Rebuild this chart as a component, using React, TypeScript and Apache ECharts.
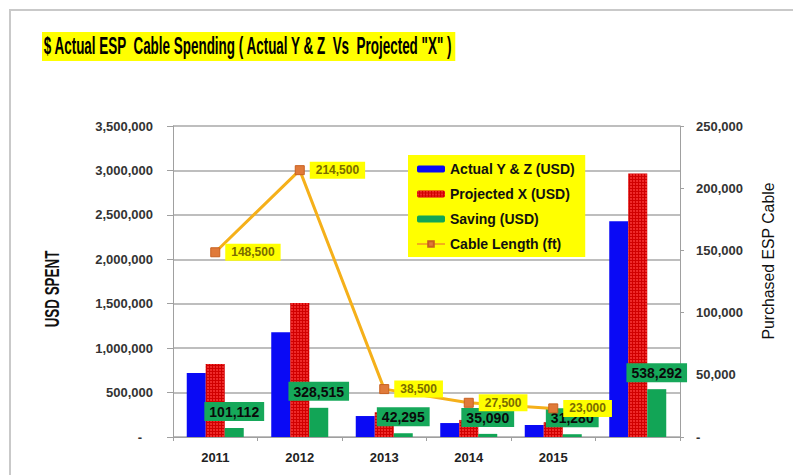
import React, { useEffect, useRef } from 'react';
import * as echarts from 'echarts';

const categories = ['2011', '2012', '2013', '2014', '2015', ''];
const actualYZ = [720000, 1180000, 236000, 157000, 135000, 2428000];
const projectedX = [821112, 1508515, 278295, 192090, 166280, 2966292];
const saving = [101112, 328515, 42295, 35090, 31280, 538292];
const cableLength = [148500, 214500, 38500, 27500, 23000];

const titleText = '$ Actual ESP  Cable Spending ( Actual Y & Z  Vs  Projected "X" )';
const leftAxisName = 'USD SPENT';
const rightAxisName = 'Purchased ESP Cable';
const seriesNames = ['Actual Y & Z (USD)', 'Projected X (USD)', 'Saving (USD)', 'Cable Length (ft)'];

const FONT = "'Liberation Sans', Arial, sans-serif";

const fmt = (v: number) => (v === 0 ? '-   ' : v.toLocaleString('en-US'));

export default function App() {
  const ref = useRef<HTMLDivElement>(null);
  useEffect(() => {
    document.body.style.margin = '0';
    const chart = echarts.init(ref.current!, null, { renderer: 'svg' });
    chart.setOption({
      animation: false,
      backgroundColor: '#ffffff',
      graphic: [
        {
          type: 'rect',
          shape: { x: 10, y: 10, width: 800, height: 480 },
          style: { fill: 'none', stroke: '#c9c9c9', lineWidth: 2 },
          silent: true,
        },
        {
          type: 'text',
          x: 42,
          y: 32,
          scaleX: 0.585,
          style: {
            text: titleText,
            font: `bold 23px ${FONT}`,
            fill: '#000',
            backgroundColor: '#ffff00',
            padding: [3, 3, 3, 3],
          },
        },
        {
          type: 'text',
          x: 53,
          y: 289,
          rotation: Math.PI / 2,
          scaleX: 0.67,
          style: {
            text: leftAxisName,
            font: `bold 20px ${FONT}`,
            fill: '#111',
            align: 'center',
            verticalAlign: 'middle',
          },
        },
        {
          type: 'text',
          x: 768,
          y: 261,
          rotation: Math.PI / 2,
          scaleX: 0.93,
          style: {
            text: rightAxisName,
            font: `17px ${FONT}`,
            fill: '#111',
            align: 'center',
            verticalAlign: 'middle',
          },
        },
      ],
      grid: { left: 173, right: 113, top: 126, bottom: 38 },
      legend: {
        data: seriesNames,
        orient: 'vertical',
        left: 408,
        top: 155,
        backgroundColor: '#ffff00',
        padding: [7, 10, 6, 8],
        itemWidth: 28,
        itemHeight: 7,
        itemGap: 11,
        textStyle: { fontFamily: FONT, fontWeight: 'bold', fontSize: 14, color: '#111' },
      },
      xAxis: {
        type: 'category',
        data: categories,
        axisLine: { lineStyle: { color: '#a0a0a0', width: 1 } },
        axisTick: { show: true, lineStyle: { color: '#a0a0a0' }, length: 4 },
        axisLabel: { fontFamily: FONT, fontWeight: 'bold', fontSize: 13, color: '#222', margin: 14 },
      },
      yAxis: [
        {
          type: 'value',
          min: 0,
          max: 3500000,
          interval: 500000,
          axisLine: { show: true, lineStyle: { color: '#a0a0a0' } },
          axisTick: { show: true, length: 6, lineStyle: { color: '#a0a0a0' } },
          splitLine: { show: true, lineStyle: { color: '#a8a8a8', width: 1.5 } },
          axisLabel: { formatter: fmt, fontFamily: FONT, fontWeight: 'bold', fontSize: 13, color: '#333', margin: 20 },
        },
        {
          type: 'value',
          min: 0,
          max: 250000,
          interval: 50000,
          axisLine: { show: true, lineStyle: { color: '#a0a0a0' } },
          axisTick: { show: true, length: 4, lineStyle: { color: '#a0a0a0' } },
          splitLine: { show: false },
          axisLabel: {
            formatter: (v: number) => (v === 0 ? '-' : v.toLocaleString('en-US')),
            fontFamily: FONT,
            fontWeight: 'bold',
            fontSize: 13,
            color: '#333',
            margin: 16,
          },
        },
      ],
      series: [
        {
          name: seriesNames[0],
          type: 'bar',
          data: actualYZ,
          barWidth: 19,
          barGap: '0%',
          itemStyle: { color: '#0a0af5' },
        },
        {
          name: seriesNames[1],
          type: 'bar',
          data: projectedX,
          barWidth: 19,
          barGap: '0%',
          itemStyle: {
            color: '#d00000',
            decal: {
              symbol: 'circle',
              symbolSize: 0.8,
              color: '#ff4040',
              dashArrayX: [2, 1],
              dashArrayY: [2, 1],
            },
          },
        },
        {
          name: seriesNames[2],
          type: 'bar',
          data: saving,
          barWidth: 19,
          barGap: '0%',
          itemStyle: { color: '#12a556' },
          label: {
            show: true,
            position: 'top',
            distance: 7,
            formatter: (p: any) => p.value.toLocaleString('en-US'),
            backgroundColor: '#16a85a',
            padding: [3, 5, 2, 5],
            color: '#0a0a0a',
            fontFamily: FONT,
            fontWeight: 'bold',
            fontSize: 14,
          },
          z: 3,
        },
        {
          name: seriesNames[3],
          type: 'line',
          yAxisIndex: 1,
          data: cableLength,
          lineStyle: { color: '#f5b01a', width: 3 },
          symbol: 'rect',
          symbolSize: 9,
          itemStyle: { color: '#e07a3a', borderColor: '#c86020', borderWidth: 1 },
          label: {
            show: true,
            position: 'right',
            distance: 5,
            formatter: (p: any) => p.value.toLocaleString('en-US'),
            backgroundColor: '#ffff00',
            padding: [3, 6, 2, 6],
            color: '#7a6c00',
            fontFamily: FONT,
            fontWeight: 'bold',
            fontSize: 12,
          },
          z: 5,
        },
      ],
    });
    return () => chart.dispose();
  }, []);
  return <div ref={ref} style={{ width: 793, height: 475, position: 'absolute', left: 0, top: 0 }} />;
}
